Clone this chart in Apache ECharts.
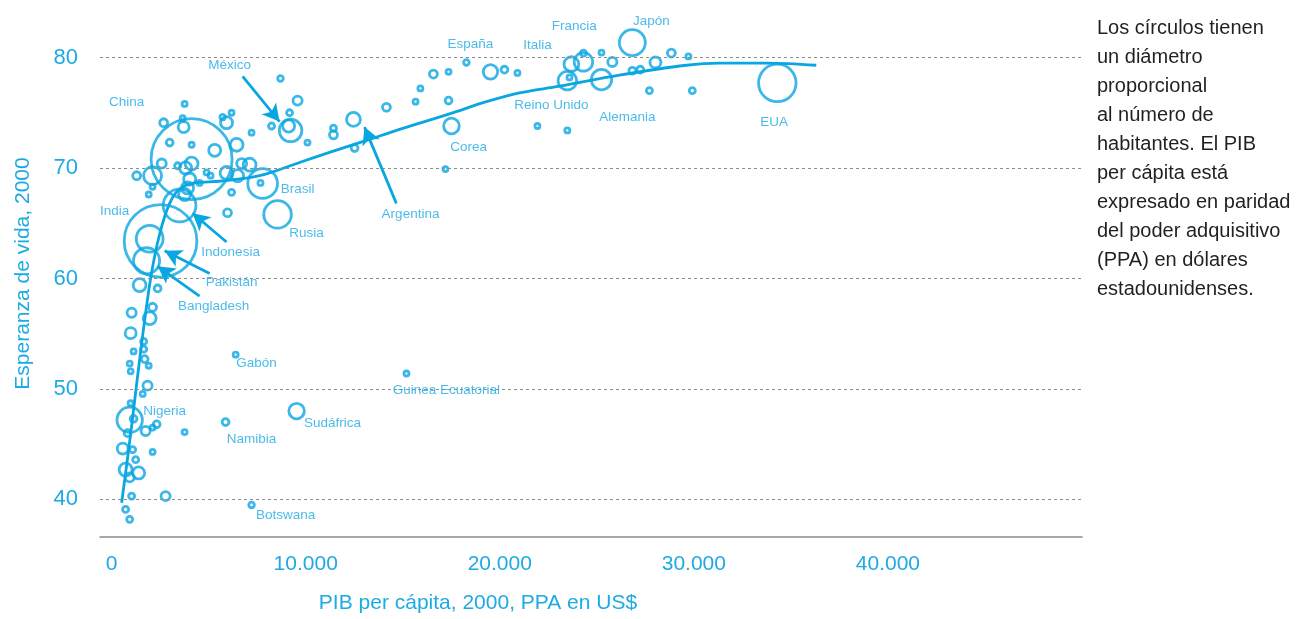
<!DOCTYPE html>
<html>
<head>
<meta charset="utf-8">
<script src="https://cdn.jsdelivr.net/npm/echarts@6/dist/echarts.min.js"></script>
<style>
  html, body { margin: 0; padding: 0; background: #fff; }
  #grafico { width: 1314px; height: 619px; }
</style>
</head>
<body>
<div id="grafico"></div>
<script>
// datos: PIB per cápita (PPA, US$), esperanza de vida y población (millones), año 2000
var paises = ['China', 'India', 'Indonesia', 'Pakistán', 'Bangladesh', 'Nigeria', 'Brasil', 'Rusia', 'México',
  'Argentina', 'Corea', 'España', 'Italia', 'Francia', 'Reino Unido', 'Alemania', 'Japón', 'EUA',
  'Sudáfrica', 'Namibia', 'Gabón', 'Guinea Ecuatorial', 'Botswana'];
var pib = [4120, 2520, 3500, 1960, 1800, 930, 7780, 8550, 9220,
  12460, 17510, 19520, 23690, 24310, 23480, 25240, 26830, 34300,
  9530, 5870, 6390, 15190, 7210,
  3760, 2680, 3660, 3710, 2990, 4120, 5310, 5720, 5920, 6440, 6180, 7210, 8240, 9170, 9120, 9580, 8700,
  10090, 11430, 11430, 12520, 14160, 15660, 15910, 16580, 17360, 17360, 17200, 18280, 20240, 20910,
  24310, 25240, 25800, 23590, 21940, 23480, 26830, 27240, 28020, 28840, 29720, 27710, 29920,
  1290, 2110, 2580, 3400, 3810, 4120, 4020, 3910, 3760, 4890, 5100, 5920, 6490, 6700, 7110, 7670, 6180,
  5970, 2110, 1910, 4530,
  1440, 2370, 1030, 2110, 1960, 980, 1650, 1650, 1130, 1700, 930, 1910, 980, 1850, 1600, 980, 1130,
  820, 1750, 2320, 2110, 3760, 2110, 570, 1080, 1240, 720, 930, 1390, 1030, 2780, 720, 930];
var esperanza = [70.8, 63.4, 66.6, 63.6, 61.6, 47.2, 68.6, 65.8, 73.4,
  74.4, 73.8, 78.7, 79.4, 79.6, 77.9, 78.0, 81.35, 77.7,
  48.0, 47.0, 53.1, 51.4, 39.5,
  75.8, 74.1, 74.5, 73.7, 72.3, 72.1, 71.6, 74.6, 74.1, 72.1, 75.0, 73.2, 73.8, 75.0, 73.8, 76.1, 78.1,
  72.3, 73.6, 73.0, 71.8, 75.5, 76.0, 77.2, 78.5, 78.7, 76.1, 69.9, 79.55, 78.9, 78.6,
  80.4, 80.45, 79.6, 78.2, 73.8, 73.4, 78.8, 78.9, 79.55, 80.4, 80.1, 77.0, 77.0,
  69.3, 69.3, 70.4, 70.2, 70.0, 70.4, 69.0, 68.2, 67.6, 69.6, 69.3, 69.55, 69.3, 70.4, 70.3, 68.65, 67.8,
  65.95, 68.3, 67.6, 68.65,
  59.4, 59.1, 56.9, 57.4, 56.4, 55.05, 54.3, 53.6, 53.4, 52.7, 52.3, 52.1, 51.6, 50.3, 49.55, 48.7, 47.3,
  46.0, 46.2, 46.8, 46.5, 46.1, 44.3, 44.6, 44.5, 43.6, 42.7, 42.0, 42.4, 40.3, 40.3, 39.1, 38.2];
var poblacion = [1262, 1016, 206, 138, 131, 124, 170, 146, 98,
  37, 47, 40, 42, 66, 66, 80, 130, 270,
  46, 9, 4, 4, 6,
  4, 12, 4, 23, 9, 5, 28, 6, 28, 32, 4, 4, 7, 7, 28, 16, 6,
  5, 7, 12, 9, 12, 4, 4, 12, 4, 9, 4, 6, 9, 4,
  7, 4, 16, 3, 4, 4, 9, 9, 23, 12, 4, 7, 7,
  12, 62, 16, 7, 28, 32, 28, 28, 28, 4, 4, 32, 28, 19, 32, 5, 7,
  12, 4, 4, 5,
  32, 9, 16, 12, 32, 23, 7, 7, 4, 9, 4, 4, 4, 16, 4, 5, 9,
  9, 16, 9, 5, 4, 4, 23, 7, 7, 32, 16, 28, 7, 16, 7, 7];

// curva de tendencia
var tendenciaPib = [515, 824, 1082, 1494, 2009, 2472, 2987, 3502, 4275, 5562, 7622, 9682, 11382,
  13133, 14832, 17407, 19313, 21012, 23072, 26162, 29612, 31312, 33733, 36308];
var tendenciaVida = [39.7, 43.8, 47.4, 53.4, 60.0, 64.0, 66.8, 68.1, 68.65, 68.8, 69.3, 70.5, 71.5,
  72.5, 73.5, 74.9, 76.0, 76.8, 77.4, 78.4, 79.3, 79.5, 79.5, 79.3];

// etiquetas de países: [texto, pib, esperanza]
var etiquetas = [
  ['China', 772, 75.95], ['India', 155, 66.1], ['Indonesia', 6130, 62.4], ['Pakistán', 6180, 59.7],
  ['Bangladesh', 5250, 57.5], ['Nigeria', 2730, 48.0], ['Gabón', 7470, 52.3],
  ['Guinea Ecuatorial', 17250, 49.9], ['Sudáfrica', 11380, 46.9], ['Namibia', 7210, 45.4],
  ['Botswana', 8960, 38.6], ['Brasil', 9580, 68.1], ['Rusia', 10040, 64.1], ['México', 6080, 79.3],
  ['Argentina', 15400, 65.8], ['Corea', 18390, 71.9], ['España', 18490, 81.2], ['Italia', 21940, 81.1],
  ['Francia', 23840, 82.8], ['Japón', 27810, 83.3], ['Reino Unido', 22660, 75.7],
  ['Alemania', 26570, 74.6], ['EUA', 34140, 74.1]
];
// flechas: [pib inicio, vida inicio, pib fin, vida fin]
var flechas = [
  [6750, 78.3, 8650, 74.2],
  [14670, 66.8, 13030, 73.7],
  [5920, 63.3, 4170, 65.9],
  [5050, 60.45, 2730, 62.5],
  [4530, 58.4, 2370, 61.1]
];

var ticksX = [0, 10000, 20000, 30000, 40000];
var ticksY = [40, 50, 60, 70, 80];

var azul = '#0aa6e1';
var azulTexto = '#1eaae3';
var fuente = 'Liberation Sans, Arial, sans-serif';

var burbujas = pib.map(function (v, i) {
  return { name: paises[i] || '', value: [v, esperanza[i], poblacion[i]] };
});
var tendencia = tendenciaPib.map(function (v, i) { return [v, tendenciaVida[i]]; });

var myChart = echarts.init(document.getElementById('grafico'));

var option = {
  animation: false,
  grid: { left: 100, right: 232, top: 10, bottom: 79 },
  xAxis: {
    type: 'value', min: -600, max: 50000,
    name: 'PIB per cápita, 2000, PPA en US$',
    nameLocation: 'middle', nameGap: 56,
    nameTextStyle: { color: azulTexto, fontSize: 21, fontFamily: fuente, padding: [0, 226, 0, 0] },
    axisLine: { lineStyle: { color: '#8a8a8a', width: 1.5 } },
    axisTick: { show: false },
    splitLine: { show: false },
    axisLabel: {
      customValues: ticksX, margin: 17, color: azulTexto, fontSize: 21, fontFamily: fuente,
      formatter: function (v) { return v === 0 ? '0' : (v / 1000) + '.000'; }
    }
  },
  yAxis: {
    type: 'value', min: 36.6, max: 84.3,
    name: 'Esperanza de vida, 2000',
    nameLocation: 'middle', nameGap: 66, nameRotate: 90,
    nameTextStyle: { color: azulTexto, fontSize: 21, fontFamily: fuente },
    axisLine: { show: false },
    axisTick: { show: false },
    splitLine: { show: false },
    axisLabel: { customValues: ticksY, margin: 22, color: azulTexto, fontSize: 22, fontFamily: fuente }
  },
  series: [
    {
      type: 'scatter',
      data: burbujas,
      symbol: 'circle',
      symbolSize: function (v) { return Math.max(5, 2.28 * Math.sqrt(v[2])); },
      itemStyle: { color: 'rgba(255,255,255,0)', borderColor: azul, borderWidth: 2.8 },
      silent: true,
      z: 3,
      markLine: {
        silent: true, symbol: 'none',
        label: { show: false },
        lineStyle: { color: '#8c8c8c', type: [3, 3], width: 1 },
        data: ticksY.map(function (t) { return { yAxis: t }; })
      }
    },
    {
      type: 'line',
      data: tendencia,
      smooth: 0.35,
      showSymbol: false,
      lineStyle: { color: azul, width: 2.8 },
      silent: true,
      z: 4
    },
    {
      type: 'scatter',
      data: etiquetas.map(function (e) { return [e[1], e[2], e[0]]; }),
      symbolSize: 1,
      itemStyle: { color: 'rgba(0,0,0,0)' },
      silent: true,
      z: 5,
      label: {
        show: true, position: 'inside', align: 'center', verticalAlign: 'middle',
        color: azulTexto, fontSize: 13.5, fontFamily: fuente,
        formatter: function (p) { return p.value[2]; }
      },
      markLine: {
        silent: true,
        symbol: ['none', 'arrow'], symbolSize: [14, 17],
        label: { show: false },
        lineStyle: { color: azul, type: 'solid', width: 2.8 },
        data: flechas.map(function (f) {
          return [{ coord: [f[0], f[1]] }, { coord: [f[2], f[3]] }];
        })
      }
    }
  ],
  graphic: [{
    type: 'text', left: 1097, top: 14,
    style: {
      text: 'Los círculos tienen\nun diámetro\nproporcional\nal número de\nhabitantes. El PIB\nper cápita está\nexpresado en paridad\ndel poder adquisitivo\n(PPA) en dólares\nestadounidenses.',
      fill: '#231f20', fontSize: 20, lineHeight: 29, fontFamily: fuente
    }
  }]
};

myChart.setOption(option);
</script>
</body>
</html>
